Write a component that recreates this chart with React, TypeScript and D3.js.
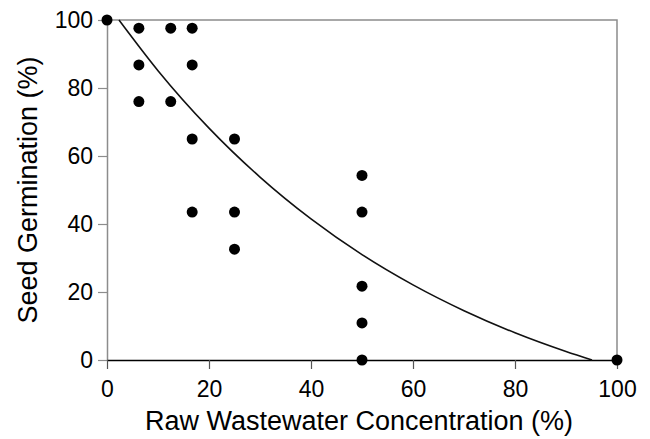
import * as d3 from "d3";
import { useEffect, useRef } from "react";

const W = 650;
const H = 439;

// observed germination points (concentration %, germination %)
const concentration = [0, 6.25, 6.25, 6.25, 12.5, 12.5, 16.7, 16.7, 16.7, 16.7, 25, 25, 25, 50, 50, 50, 50, 50, 100];
const germination = [100, 97.6, 86.8, 76, 97.6, 76, 97.6, 86.8, 65, 43.5, 65, 43.5, 32.6, 54.3, 43.5, 21.7, 10.9, 0, 0];

// fitted curve
const fitX = [2.35, 10, 20, 30, 40, 50, 60, 70, 80, 90, 95.1];
const fitY = [100, 85.1, 68.2, 53.8, 41.5, 31.0, 22.1, 14.5, 8.0, 2.5, 0];

const xTicks = [0, 20, 40, 60, 80, 100];
const yTicks = [0, 20, 40, 60, 80, 100];

const FONT = "'Liberation Sans', Arial, Helvetica, sans-serif";

export default function App() {
  const ref = useRef<SVGSVGElement>(null);

  useEffect(() => {
    const svg = d3.select(ref.current);
    svg.selectAll("*").remove();

    const left = 107;
    const right = 617;
    const top = 20;
    const bottom = 360;

    const x = d3.scaleLinear().domain([0, 100]).range([left, right]);
    const y = d3.scaleLinear().domain([0, 100]).range([bottom, top]);

    // frame (top + right) in grey
    svg
      .append("path")
      .attr("d", `M${left},${top}H${right}V${bottom}`)
      .attr("fill", "none")
      .attr("stroke", "#8c8c8c")
      .attr("stroke-width", 1.5);

    // y axis
    const yAxis = svg
      .append("g")
      .attr("transform", `translate(${left},0)`)
      .call(d3.axisLeft(y).tickValues(yTicks).tickSize(9).tickPadding(5).tickSizeOuter(0));
    yAxis.select(".domain").attr("stroke", "#8c8c8c").attr("stroke-width", 1.5);
    yAxis.selectAll(".tick line").attr("stroke", "#8c8c8c").attr("stroke-width", 1.2);
    yAxis
      .selectAll(".tick text")
      .attr("font-family", FONT)
      .attr("font-size", 23)
      .attr("fill", "#000");

    // x axis
    const xAxis = svg
      .append("g")
      .attr("transform", `translate(0,${bottom})`)
      .call(d3.axisBottom(x).tickValues(xTicks).tickSize(9).tickPadding(12).tickSizeOuter(0));
    xAxis.select(".domain").attr("stroke", "#000").attr("stroke-width", 1.5);
    xAxis.selectAll(".tick line").attr("stroke", "#555").attr("stroke-width", 1.2);
    xAxis
      .selectAll(".tick text")
      .attr("font-family", FONT)
      .attr("font-size", 23)
      .attr("fill", "#000");

    // fitted curve
    const line = d3
      .line<number>()
      .curve(d3.curveMonotoneX)
      .x((d, i) => x(fitX[i]))
      .y((d) => y(d));
    svg
      .append("path")
      .attr("d", line(fitY) ?? "")
      .attr("fill", "none")
      .attr("stroke", "#111")
      .attr("stroke-width", 1.6);

    // points
    svg
      .append("g")
      .selectAll("circle")
      .data(concentration)
      .join("circle")
      .attr("cx", (d) => x(d))
      .attr("cy", (d, i) => y(germination[i]))
      .attr("r", 5.5)
      .attr("fill", "#000");

    // axis titles
    svg
      .append("text")
      .attr("x", 359)
      .attr("y", 430)
      .attr("text-anchor", "middle")
      .attr("font-family", FONT)
      .attr("font-size", 27)
      .text("Raw Wastewater Concentration (%)");

    svg
      .append("text")
      .attr("transform", `translate(37,${(top + bottom) / 2}) rotate(-90)`)
      .attr("text-anchor", "middle")
      .attr("font-family", FONT)
      .attr("font-size", 27)
      .text("Seed Germination (%)");
  }, []);

  return (
    <svg
      ref={ref}
      width={W}
      height={H}
      style={{ position: "absolute", left: 0, top: 0, background: "#fff" }}
    />
  );
}
